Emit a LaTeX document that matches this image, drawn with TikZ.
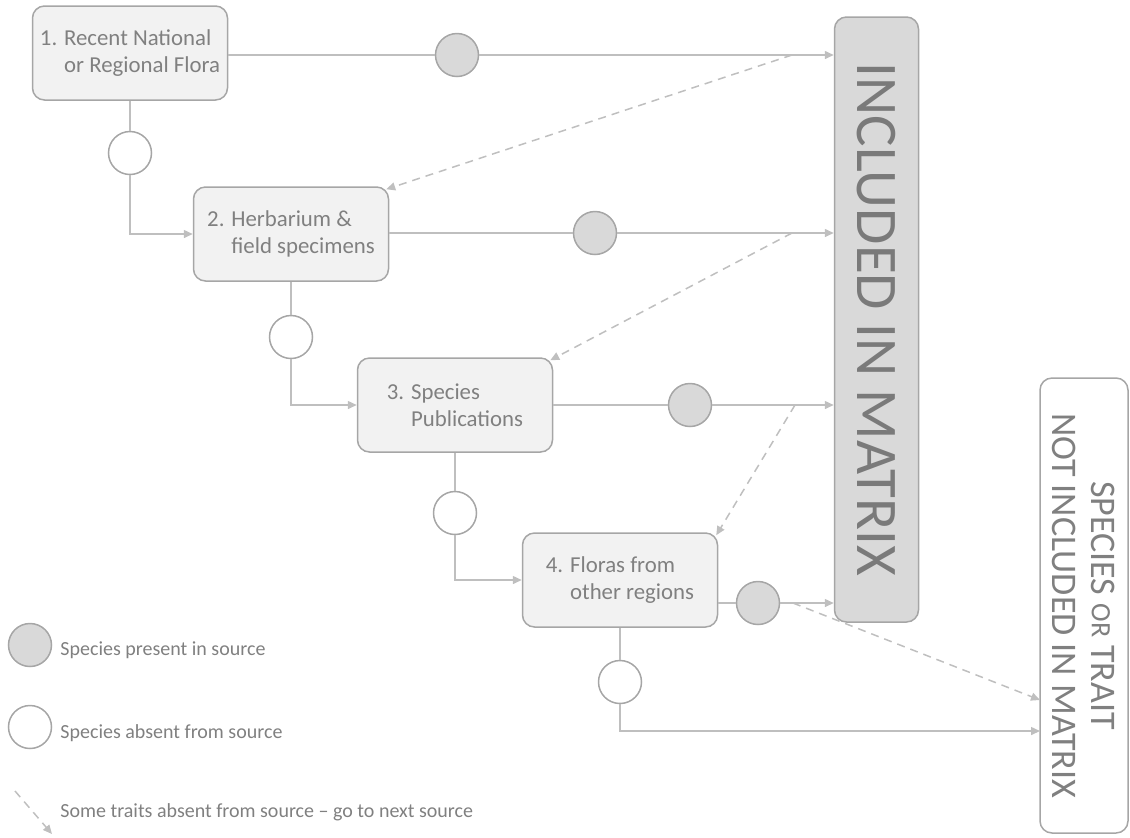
\documentclass[tikz,border=0pt]{standalone}
\usepackage{fontspec}
\setmainfont{Carlito}
\usepackage{tikz}
\usetikzlibrary{arrows.meta,positioning}

\definecolor{linegray}{HTML}{BFBFBF}
\definecolor{edgegray}{HTML}{A6A6A6}
\definecolor{boxfill}{HTML}{F2F2F2}
\definecolor{dotfill}{HTML}{D9D9D9}
\definecolor{textgray}{HTML}{808080}

\begin{document}
\begin{tikzpicture}[x=0.5pt,y=-0.5pt,>={Stealth[length=4.5pt,width=4pt,inset=0pt]},
    source/.style={draw=edgegray,fill=boxfill,line width=0.75pt,rounded corners=6pt,
        minimum width=97.5pt,minimum height=47pt,align=left,text=textgray,
        font=\fontsize{11.4}{13.5}\selectfont},
    present/.style={circle,draw=edgegray,fill=dotfill,line width=0.75pt,minimum size=21.5pt,inner sep=0pt},
    absent/.style={present,fill=white},
    link/.style={draw=linegray,line width=0.75pt},
    skip/.style={link,dash pattern=on 4pt off 3pt},
    key/.style={anchor=west,text=textgray,inner xsep=1pt,font=\fontsize{10}{12}\selectfont}]
    \useasboundingbox (0,0) rectangle (1130,837);

    % sources
    \node[source] (b1) at (130,53) {1. Recent National\\\phantom{1. }or Regional Flora};
    \node[source] (b2) at (291,234) {2. Herbarium \&\\\phantom{2. }field specimens};
    \node[source] (b3) at (455,405) {3. Species\\\phantom{3. }Publications};
    \node[source] (b4) at (620,580) {4. Floras from\\\phantom{4. }other regions};

    % outcomes
    \node[draw=edgegray,fill=dotfill,line width=0.75pt,rounded corners=6pt,rotate=-90,
        minimum width=302.5pt,minimum height=42pt,text=textgray!95!black,
        font=\fontsize{29.5}{31}\selectfont] (inc) at (876.5,319.5) {INCLUDED IN MATRIX};
    \node[draw=edgegray,fill=white,line width=0.75pt,rounded corners=6pt,rotate=-90,
        minimum width=227.5pt,minimum height=44pt,align=center,text=textgray,
        font=\fontsize{18}{19.5}\selectfont] (nm) at (1084,605.5)
        {SPECIES {\fontsize{14}{15}\selectfont OR} TRAIT\\NOT INCLUDED IN MATRIX};

    % present in source
    \node[present] (f1) at (457,55) {};
    \node[present] (f2) at (595,233) {};
    \node[present] (f3) at (690,405) {};
    \node[present] (f4) at (758,603) {};

    % absent from source
    \node[absent] (o1) at (130,153) {};
    \node[absent] (o2) at (291,337) {};
    \node[absent] (o3) at (455,513) {};
    \node[absent] (o4) at (620,682) {};

    \coordinate (s1) at (792,55);
    \coordinate (s2) at (792,233);
    \coordinate (s3) at (795,405);
    \coordinate (s4) at (793,603);
    \coordinate (n4) at (1040,731);
    \coordinate (n5) at (1040,700);

    \draw[link] (b1.east |- f1) -- (f1);
    \draw[link,->] (f1) -- (f1 -| inc.south);
    \draw[link] (b2.east |- f2) -- (f2);
    \draw[link,->] (f2) -- (f2 -| inc.south);
    \draw[link] (b3.east |- f3) -- (f3);
    \draw[link,->] (f3) -- (f3 -| inc.south);
    \draw[link] (b4.east |- f4) -- (f4);
    \draw[link,->] (f4) -- (f4 -| inc.south);

    \draw[link] (b1) -- (o1);
    \draw[link,->] (o1) |- (b2);
    \draw[link] (b2) -- (o2);
    \draw[link,->] (o2) |- (b3);
    \draw[link] (b3) -- (o3);
    \draw[link,->] (o3) |- (b4);
    \draw[link] (b4) -- (o4);
    \draw[link,->] (o4) |- (n4);

    \draw[skip,->] (s1) -- ([shift={(-3,3)}]b2.north east);
    \draw[skip,->] (s2) -- ([shift={(-3,3)}]b3.north east);
    \draw[skip,->] (s3) -- ([shift={(-2,3)}]b4.north east);
    \draw[skip,->] (s4) -- (n5);

    % legend
    \node[present] (kf) at (30,645) {};
    \node[key] (kft) at (58,650) {Species present in source};
    \node[absent] (ko) at (30,727) {};
    \node[key] (kot) at (58,733) {Species absent from source};
    \coordinate (ka) at (15,791);
    \coordinate (kb) at (52,834);
    \draw[skip,->] (ka) -- (kb);
    \node[key] (kat) at (58,812) {Some traits absent from source -- go to next source};
\end{tikzpicture}
\end{document}
